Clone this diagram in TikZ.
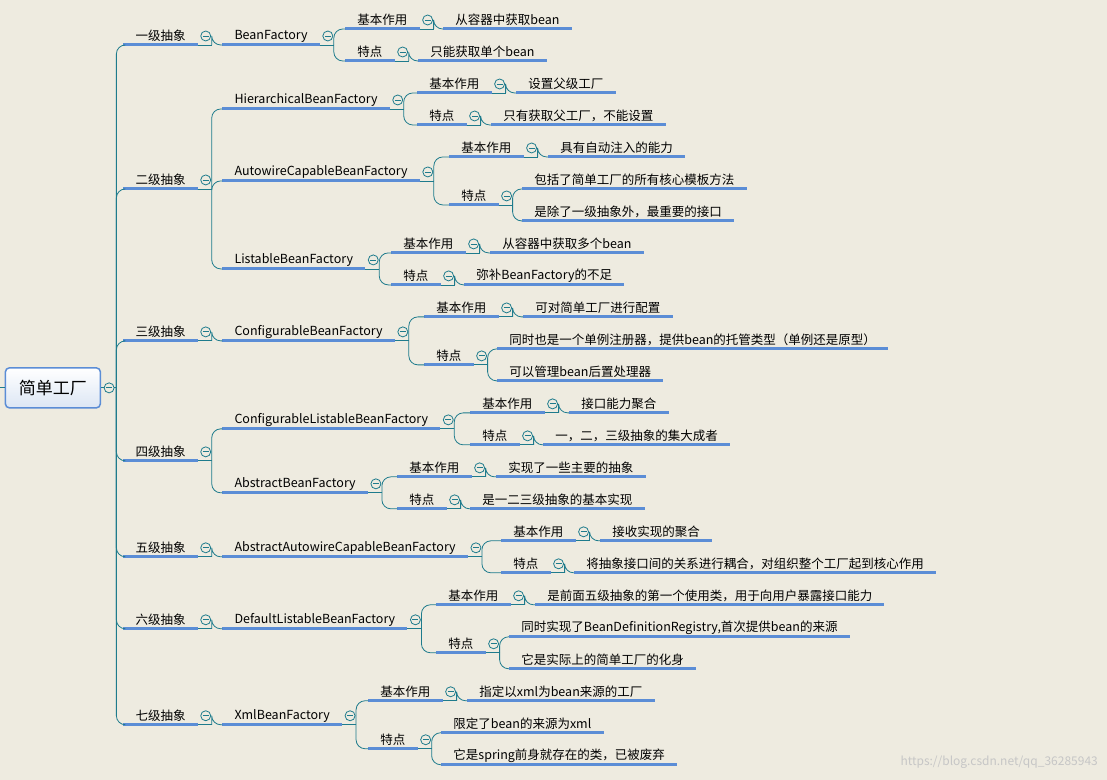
\documentclass[tikz,border=0pt]{standalone}
\usepackage{fontspec}
\setmainfont{Noto Sans CJK SC}
\usetikzlibrary{calc}
\definecolor{bgc}{HTML}{EEEBE0}
\definecolor{linec}{HTML}{1E7B8C}
\definecolor{ulc}{HTML}{5B8DD6}
\definecolor{rootc}{HTML}{DCE6F4}

% one topic: name, x, y, text
\newcommand\topic[4]{%
  \node[topic] (#1) at (#2,#3) {#4};
  \coordinate (#1-l) at ($(#1.west)+(-12,9)$);
  \coordinate (#1-r) at ($(#1.east)+(12,9)$);
  \draw[uline] (#1-l) -- (#1-r);}
% collapse mark after a topic
\newcommand\fold[1]{%
  \coordinate (#1-c) at ($(#1-r)+(8,-9)$);
  \draw[linec,fill=bgc,line width=0.8pt] (#1-c) circle (5);
  \draw[linec,line width=0.8pt] ($(#1-c)+(-3,0)$) -- ($(#1-c)+(3,0)$);}
% connector parent -> child
\newcommand\link[2]{%
  \draw[conn] (#1-r) -- ($(#1-r)+(14,0)$);
  \draw[conn,rounded corners=9] ($(#1-r)+(14,0)$) |- (#2-l);}

\begin{document}
\begin{tikzpicture}[x=1pt,y=-1pt]
\tikzset{topic/.style={anchor=west,inner sep=0pt,font=\fontsize{12.5}{15}\selectfont,text=black}}
\tikzset{uline/.style={ulc,line width=3pt}}
\tikzset{conn/.style={linec,line width=0.8pt}}
\tikzset{rootbox/.style={draw=ulc,line width=1.5pt,rounded corners=4pt,top color=white,bottom color=rootc,minimum width=95,minimum height=40,font=\fontsize{17}{20}\selectfont}}
\fill[bgc] (0,0) rectangle (1107,780);

\node[rootbox] (root) at (52.5,388) {简单工厂};
\draw[conn] (0,388) -- (root.west);
\coordinate (root-r) at (root.east);

% level 1
\topic{l1}{135}{36}{一级抽象}
\topic{l2}{135}{180}{二级抽象}
\topic{l3}{135}{332}{三级抽象}
\topic{l4}{135}{452}{四级抽象}
\topic{l5}{135}{548}{五级抽象}
\topic{l6}{135}{620}{六级抽象}
\topic{l7}{135}{716}{七级抽象}
\foreach \n in {l1,l2,l3,l4,l5,l6,l7}{
  \draw[conn] (root-r) -- (116,388);
  \draw[conn,rounded corners=9] (116,388) |- (\n-l);
}

% level 2
\topic{bf}{234}{36}{BeanFactory}
\topic{hbf}{234}{100}{HierarchicalBeanFactory}
\topic{acbf}{234}{172}{AutowireCapableBeanFactory}
\topic{lbf}{234}{260}{ListableBeanFactory}
\topic{cbf}{234}{332}{ConfigurableBeanFactory}
\topic{clbf}{234}{420}{ConfigurableListableBeanFactory}
\topic{abf}{234}{484}{AbstractBeanFactory}
\topic{aacbf}{234}{548}{AbstractAutowireCapableBeanFactory}
\topic{dlbf}{234}{620}{DefaultListableBeanFactory}
\topic{xbf}{234}{716}{XmlBeanFactory}
\link{l1}{bf}
\link{l2}{hbf}\link{l2}{acbf}\link{l2}{lbf}
\link{l3}{cbf}
\link{l4}{clbf}\link{l4}{abf}
\link{l5}{aacbf}
\link{l6}{dlbf}
\link{l7}{xbf}

% BeanFactory
\topic{bfa}{357}{20}{基本作用}\topic{bfb}{357}{52}{特点}
\topic{bfa1}{455}{20}{从容器中获取bean}
\topic{bfb1}{430}{52}{只能获取单个bean}
\link{bf}{bfa}\link{bf}{bfb}\link{bfa}{bfa1}\link{bfb}{bfb1}
% HierarchicalBeanFactory
\topic{hbfa}{429}{84}{基本作用}\topic{hbfb}{429}{116}{特点}
\topic{hbfa1}{528}{84}{设置父级工厂}
\topic{hbfb1}{503}{116}{只有获取父工厂，不能设置}
\link{hbf}{hbfa}\link{hbf}{hbfb}\link{hbfa}{hbfa1}\link{hbfb}{hbfb1}
% AutowireCapableBeanFactory
\topic{acbfa}{461}{148}{基本作用}\topic{acbfb}{461}{196}{特点}
\topic{acbfa1}{560}{148}{具有自动注入的能力}
\topic{acbfb1}{534}{180}{包括了简单工厂的所有核心模板方法}
\topic{acbfb2}{534}{212}{是除了一级抽象外，最重要的接口}
\link{acbf}{acbfa}\link{acbf}{acbfb}\link{acbfa}{acbfa1}\link{acbfb}{acbfb1}\link{acbfb}{acbfb2}
% ListableBeanFactory
\topic{lbfa}{403}{244}{基本作用}\topic{lbfb}{403}{276}{特点}
\topic{lbfa1}{502}{244}{从容器中获取多个bean}
\topic{lbfb1}{476}{276}{弥补BeanFactory的不足}
\link{lbf}{lbfa}\link{lbf}{lbfb}\link{lbfa}{lbfa1}\link{lbfb}{lbfb1}
% ConfigurableBeanFactory
\topic{cbfa}{436}{308}{基本作用}\topic{cbfb}{436}{356}{特点}
\topic{cbfa1}{535}{308}{可对简单工厂进行配置}
\topic{cbfb1}{509}{340}{同时也是一个单例注册器，提供bean的托管类型（单例还是原型）}
\topic{cbfb2}{509}{372}{可以管理bean后置处理器}
\link{cbf}{cbfa}\link{cbf}{cbfb}\link{cbfa}{cbfa1}\link{cbfb}{cbfb1}\link{cbfb}{cbfb2}
% ConfigurableListableBeanFactory
\topic{clbfa}{482}{404}{基本作用}\topic{clbfb}{482}{436}{特点}
\topic{clbfa1}{581}{404}{接口能力聚合}
\topic{clbfb1}{555}{436}{一，二，三级抽象的集大成者}
\link{clbf}{clbfa}\link{clbf}{clbfb}\link{clbfa}{clbfa1}\link{clbfb}{clbfb1}
% AbstractBeanFactory
\topic{abfa}{409}{468}{基本作用}\topic{abfb}{409}{500}{特点}
\topic{abfa1}{508}{468}{实现了一些主要的抽象}
\topic{abfb1}{482}{500}{是一二三级抽象的基本实现}
\link{abf}{abfa}\link{abf}{abfb}\link{abfa}{abfa1}\link{abfb}{abfb1}
% AbstractAutowireCapableBeanFactory
\topic{aacbfa}{513}{532}{基本作用}\topic{aacbfb}{513}{564}{特点}
\topic{aacbfa1}{612}{532}{接收实现的聚合}
\topic{aacbfb1}{586}{564}{将抽象接口间的关系进行耦合，对组织整个工厂起到核心作用}
\link{aacbf}{aacbfa}\link{aacbf}{aacbfb}\link{aacbfa}{aacbfa1}\link{aacbfb}{aacbfb1}
% DefaultListableBeanFactory
\topic{dlbfa}{448}{596}{基本作用}\topic{dlbfb}{448}{644}{特点}
\topic{dlbfa1}{547}{596}{是前面五级抽象的第一个使用类，用于向用户暴露接口能力}
\topic{dlbfb1}{521}{628}{同时实现了BeanDefinitionRegistry,首次提供bean的来源}
\topic{dlbfb2}{521}{660}{它是实际上的简单工厂的化身}
\link{dlbf}{dlbfa}\link{dlbf}{dlbfb}\link{dlbfa}{dlbfa1}\link{dlbfb}{dlbfb1}\link{dlbfb}{dlbfb2}
% XmlBeanFactory
\topic{xbfa}{380}{692}{基本作用}\topic{xbfb}{380}{740}{特点}
\topic{xbfa1}{479}{692}{指定以xml为bean来源的工厂}
\topic{xbfb1}{453}{724}{限定了bean的来源为xml}
\topic{xbfb2}{453}{756}{它是spring前身就存在的类，已被废弃}
\link{xbf}{xbfa}\link{xbf}{xbfb}\link{xbfa}{xbfa1}\link{xbfb}{xbfb1}\link{xbfb}{xbfb2}

% collapse marks
\foreach \n in {l1,l2,l3,l4,l5,l6,l7,bf,hbf,acbf,lbf,cbf,clbf,abf,aacbf,dlbf,xbf,
  bfa,bfb,hbfa,hbfb,acbfa,acbfb,lbfa,lbfb,cbfa,cbfb,clbfa,clbfb,abfa,abfb,aacbfa,aacbfb,dlbfa,dlbfb,xbfa,xbfb}{\fold{\n}}
\coordinate (root-c) at ($(root.east)+(8,0)$);
\draw[linec,fill=bgc,line width=0.8pt] (root-c) circle (5);
\draw[linec,line width=0.8pt] ($(root-c)+(-3,0)$) -- ($(root-c)+(3,0)$);

\node[anchor=east,inner sep=0pt,text=gray!45,font=\fontsize{12}{14}\selectfont] (mark) at (1098,762) {https://blog.csdn.net/qq\_36285943};
\end{tikzpicture}
\end{document}
